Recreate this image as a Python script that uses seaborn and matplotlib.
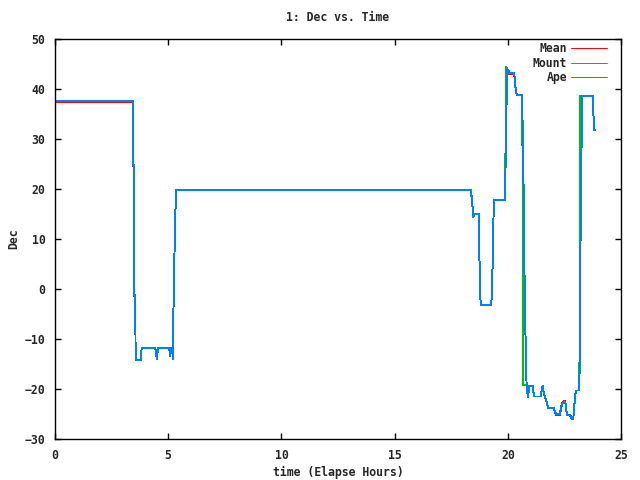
import pandas as pd
import matplotlib
matplotlib.use("Agg")
import matplotlib.pyplot as plt
import seaborn as sns

# Ape track (time in elapsed hours, dec in degrees)
ape_time = [0.0, 3.45, 3.46, 3.50, 3.51, 3.55, 3.56, 3.78, 3.80, 3.83, 4.43, 4.50, 4.55,
            5.05, 5.08, 5.10, 5.18, 5.20, 5.22, 5.26, 5.30, 5.36, 18.37, 18.40, 18.45,
            18.48, 18.52, 18.74, 18.75, 18.80, 19.24, 19.28, 19.32, 19.36, 19.39, 19.89,
            19.90, 19.92, 19.95, 19.98, 20.01, 20.04, 20.08, 20.29, 20.30, 20.35, 20.40,
            20.64, 20.67, 20.70, 20.73, 20.76, 20.79, 20.83, 20.85, 20.87, 20.89, 20.95,
            21.10, 21.16, 21.45, 21.54, 21.58, 21.63, 21.68, 21.73, 21.78, 22.04, 22.08,
            22.13, 22.30, 22.34, 22.39, 22.45, 22.53, 22.57, 22.61, 22.75, 22.78, 22.82,
            22.89, 22.92, 22.97, 23.01, 23.16, 23.19, 23.21, 23.23, 23.26, 23.29, 23.75,
            23.78, 23.81, 23.87]
ape_dec = [37.6, 37.6, 24.8, 24.8, -1.2, -1.2, -14.2, -14.2, -13.2, -11.8, -11.8, -14.0, -11.8,
           -11.8, -13.5, -11.8, -11.8, -14.0, -6.8, 1.4, 13.6, 19.8, 19.8, 18.6, 16.2,
           14.6, 15.0, 15.0, 5.8, -3.2, -3.2, -2.3, 2.8, 12.8, 17.8, 17.8,
           24.6, 33.8, 37.8, 44.0, 43.2, 43.6, 43.3, 43.3, 42.2, 39.8, 38.8,
           38.8, 24.5, 20.2, 5.8, -4.8, -10.8, -19.2, -19.2, -20.8, -21.6, -19.4,
           -19.4, -21.5, -21.5, -19.4, -20.5, -21.4, -22.2, -22.8, -23.8, -23.8, -24.5,
           -25.0, -25.0, -24.3, -23.2, -22.7, -22.5, -23.5, -25.2, -25.2, -25.5, -26.0,
           -26.0, -24.5, -21.5, -20.3, -20.3, -7.5, 9.2, 13.5, 30.2, 38.7, 38.7,
           35.2, 31.8, 31.8]

# Mount track
mount_time = [0.0, 3.45, 3.46, 3.50, 3.51, 3.55, 3.56, 3.78, 3.80, 3.83, 4.43, 4.50, 4.55,
              5.05, 5.08, 5.10, 5.18, 5.20, 5.22, 5.26, 5.30, 5.36, 18.37, 18.40, 18.45,
              18.48, 18.52, 18.74, 18.75, 18.80, 19.24, 19.28, 19.32, 19.36, 19.39, 19.89,
              19.90, 19.91, 19.94, 19.97, 20.03, 20.06, 20.29, 20.30, 20.35, 20.40,
              20.63, 20.64, 20.66, 20.68, 20.83, 20.87, 20.89, 20.95,
              21.10, 21.16, 21.45, 21.54, 21.58, 21.63, 21.68, 21.73, 21.78, 22.04, 22.08,
              22.13, 22.30, 22.34, 22.39, 22.45, 22.53, 22.57, 22.61, 22.75, 22.78, 22.82,
              22.89, 22.92, 22.97, 23.01, 23.16, 23.17, 23.18, 23.75,
              23.78, 23.81, 23.87]
mount_dec = [37.6, 37.6, 24.8, 24.8, -1.2, -1.2, -14.2, -14.2, -13.2, -11.8, -11.8, -14.0, -11.8,
             -11.8, -13.5, -11.8, -11.8, -14.0, -6.8, 1.4, 13.6, 19.8, 19.8, 18.4, 16.0,
             14.4, 15.0, 15.0, 5.8, -3.2, -3.2, -2.3, 2.8, 12.8, 17.8, 17.8,
             29.0, 35.0, 44.4, 44.2, 43.4, 43.3, 43.3, 42.2, 39.8, 38.8,
             38.8, 32.5, 24.0, -19.2, -19.2, -20.8, -21.6, -19.4,
             -19.4, -21.5, -21.5, -19.4, -20.5, -21.4, -22.2, -22.8, -23.8, -23.8, -24.5,
             -25.0, -25.0, -24.3, -23.2, -22.7, -22.5, -23.5, -25.2, -25.2, -25.5, -26.0,
             -26.0, -24.5, -21.5, -20.3, -20.3, -12.0, 38.7, 38.7,
             35.2, 31.8, 31.8]

# Mean track
mean_time = [0.0, 3.45, 3.46, 3.50, 3.51, 3.55, 3.56, 3.78, 3.80, 3.83, 4.43, 4.50, 4.55,
             5.05, 5.08, 5.10, 5.18, 5.20, 5.22, 5.26, 5.30, 5.36, 18.37, 18.40, 18.45,
             18.48, 18.52, 18.74, 18.75, 18.80, 19.24, 19.28, 19.32, 19.36, 19.39, 19.89,
             19.90, 19.92, 19.95, 19.98, 20.01, 20.04, 20.08, 20.29, 20.30, 20.35, 20.40,
             20.64, 20.67, 20.70, 20.73, 20.76, 20.79, 20.83, 20.85, 20.87, 20.89, 20.95,
             21.10, 21.16, 21.45, 21.54, 21.58, 21.63, 21.68, 21.73, 21.78, 22.04, 22.08,
             22.13, 22.30, 22.34, 22.39, 22.45, 22.53, 22.57, 22.61, 22.75, 22.78, 22.82,
             22.89, 22.92, 22.97, 23.01, 23.16, 23.19, 23.21, 23.23, 23.26, 23.29, 23.75,
             23.78, 23.81, 23.87]
mean_dec = [37.4, 37.4, 24.6, 24.6, -1.4, -1.4, -14.2, -14.2, -13.2, -11.8, -11.8, -14.0, -11.8,
            -11.8, -13.5, -11.8, -11.8, -14.0, -6.8, 1.4, 13.6, 19.8, 19.8, 18.5, 16.1,
            14.5, 15.0, 15.0, 5.8, -3.2, -3.2, -2.3, 2.8, 12.8, 17.8, 17.8,
            24.6, 33.8, 37.8, 44.0, 43.0, 43.0, 43.0, 43.0, 42.0, 39.8, 38.8,
            38.8, 24.5, 20.2, 5.8, -4.8, -10.8, -19.2, -19.2, -20.8, -21.6, -19.4,
            -19.4, -21.5, -21.5, -19.4, -20.5, -21.4, -22.2, -22.8, -23.8, -23.8, -24.7,
            -25.2, -25.2, -24.0, -22.9, -22.5, -22.3, -23.5, -25.2, -25.2, -25.5, -26.0,
            -26.0, -24.5, -21.5, -20.3, -20.3, -7.5, 9.2, 13.5, 30.2, 38.7, 38.7,
            35.2, 31.8, 31.8]

df = pd.concat([
    pd.DataFrame({"time": mean_time, "dec": mean_dec, "series": "Mean"}),
    pd.DataFrame({"time": mount_time, "dec": mount_dec, "series": "Mount"}),
    pd.DataFrame({"time": ape_time, "dec": ape_dec, "series": "Ape"}),
], ignore_index=True)

sns.set_style("ticks")
plt.rcParams["font.family"] = ["DejaVu Sans Mono"]
plt.rcParams["font.weight"] = "bold"

fig = plt.figure(figsize=(6.4, 4.8), dpi=100)
ax = fig.add_axes([0.0859, 0.0854, 0.8844, 0.8333])

palette = {"Mean": "#ff0000", "Mount": "#00c000", "Ape": "#0080ff"}
sns.lineplot(data=df, x="time", y="dec", hue="series", hue_order=["Mean", "Mount", "Ape"],
             palette=palette, estimator=None, sort=False, linewidth=0.7,
             antialiased=False, ax=ax)

ax.set_xlim(0, 25)
ax.set_ylim(-30, 50)
ax.set_xticks([0, 5, 10, 15, 20, 25])
ax.set_yticks([-30, -20, -10, 0, 10, 20, 30, 40, 50])
ax.tick_params(direction="in", length=4, width=1, top=True, right=True,
               labelsize=8.3, pad=7, color="black")
for s in ax.spines.values():
    s.set_linewidth(1)
    s.set_color("black")

ax.set_title("1: Dec vs. Time", fontsize=8.3, fontweight="bold", pad=13)
ax.set_xlabel("time (Elapse Hours)", fontsize=8.3, fontweight="bold", labelpad=3)
ax.set_ylabel("Dec", fontsize=8.3, fontweight="bold", labelpad=3)

ax.legend(loc="upper right", bbox_to_anchor=(0.975, 0.9925), frameon=False,
          markerfirst=False, fontsize=8.3, handlelength=3.1, handletextpad=0.35,
          labelspacing=0.15, borderpad=0, borderaxespad=0)

fig.savefig("out.png", dpi=100)
